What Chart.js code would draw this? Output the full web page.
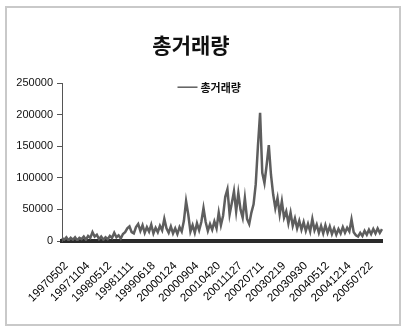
<!DOCTYPE html>
<html>
<head>
<meta charset="utf-8">
<script src="https://cdn.jsdelivr.net/npm/chart.js@4.4.0/dist/chart.umd.min.js"></script>
<style>
  html, body { margin: 0; padding: 0; background: #fff; }
  #wrap { position: relative; width: 405px; height: 327px; }
  #frame { position: absolute; left: 5px; top: 6px; width: 392px; height: 316px; border: 2px solid #c9c9c9; }
  canvas { position: absolute; left: 0; top: 0; }
</style>
</head>
<body>
<div id="wrap">
  <div id="frame"></div>
  <canvas id="volChart" width="405" height="327"></canvas>
</div>
<script>
// tick labels shown on the x axis (every 10th point, starting at index 2)
const tickLabels = ['19970502', '19971104', '19980512', '19981111', '19990618', '20000124',
  '20000904', '20010420', '20011127', '20020711', '20030219', '20030930', '20040512',
  '20041214', '20050722'];

// total volume (one value per ~2 px)
const volume = [
  5000, 2000, 6000, 1000, 5000, 2000, 6000, 1000, 5000, 3000,
  7000, 2000, 8000, 5000, 14000, 7000, 10000, 3000, 7000, 2000,
  6000, 3000, 8000, 5000, 13000, 6000, 9000, 4000, 11000, 14000,
  20000, 23000, 14000, 12000, 22000, 27000, 16000, 25000, 13000, 22000,
  15000, 26000, 12000, 21000, 14000, 24000, 17000, 35000, 20000, 13000,
  23000, 12000, 20000, 11000, 22000, 15000, 32000, 63000, 42000, 15000,
  25000, 13000, 28000, 17000, 30000, 52000, 30000, 16000, 27000, 18000,
  31000, 20000, 45000, 25000, 40000, 70000, 82000, 42000, 60000, 79000,
  47000, 76000, 50000, 37000, 68000, 35000, 27000, 45000, 58000, 90000,
  150000, 203000, 108000, 92000, 120000, 152000, 105000, 74000, 52000, 68000,
  42000, 63000, 37000, 47000, 28000, 45000, 24000, 36000, 20000, 32000,
  18000, 30000, 16000, 27000, 15000, 35000, 17000, 26000, 13000, 24000,
  12000, 25000, 13000, 23000, 11000, 20000, 10000, 19000, 12000, 22000,
  13000, 21000, 15000, 34000, 14000, 9000, 7000, 13000, 8000, 16000,
  10000, 18000, 11000, 19000, 12000, 20000, 13000, 19000
];

const yTicks = [0, 50000, 100000, 150000, 200000, 250000];

const categories = volume.map((v, i) => ((i - 2) % 10 === 0 && tickLabels[(i - 2) / 10]) || '');

// legend drawn inside the plot area, centred near the top (Excel style)
const innerLegend = {
  id: 'innerLegend',
  afterDraw(chart) {
    const c = chart.ctx;
    const ds = chart.data.datasets[0];
    const y = chart.chartArea.top + 4;
    const x0 = chart.width / 2 - 25;
    c.save();
    c.strokeStyle = ds.borderColor;
    c.lineWidth = 1.5;
    c.beginPath();
    c.moveTo(x0, y);
    c.lineTo(x0 + 20, y);
    c.stroke();
    c.fillStyle = '#111';
    c.font = 'bold 11px "Noto Sans CJK KR"';
    c.textBaseline = 'middle';
    c.fillText(ds.label, x0 + 23, y + 1);
    c.restore();
  }
};

const ctx = document.getElementById('volChart');
new Chart(ctx, {
  type: 'line',
  data: {
    labels: categories,
    datasets: [{
      label: '총거래량',
      data: volume,
      borderColor: '#5e5e5e',
      backgroundColor: '#5e5e5e',
      borderWidth: 2.5,
      pointRadius: 0,
      tension: 0
    }]
  },
  plugins: [innerLegend],
  options: {
    responsive: false,
    animation: false,
    layout: { padding: { left: 0, right: 23, top: 0, bottom: 0 } },
    plugins: {
      title: {
        display: true,
        text: '총거래량',
        color: '#111',
        font: { family: 'Noto Sans CJK KR', size: 21, weight: 'bold' },
        padding: { top: 32, bottom: 26 }
      },
      legend: { display: false },
      tooltip: { enabled: false }
    },
    scales: {
      x: {
        grid: { display: false },
        border: { display: true, width: 4, color: '#2a2a2a' },
        ticks: {
          autoSkip: false,
          minRotation: 45,
          maxRotation: 45,
          padding: 10,
          color: '#000',
          font: { family: 'Liberation Sans', size: 11.5 },
          callback: (v, i) => categories[i]
        },
        afterFit: s => { s.height = 86; }
      },
      y: {
        min: 0,
        max: 250000,
        afterBuildTicks: s => { s.ticks = yTicks.map(v => ({ value: v })); },
        grid: { drawOnChartArea: false, drawTicks: true, tickLength: 5, color: '#555' },
        border: { display: true, width: 1, color: '#555' },
        ticks: {
          padding: 4,
          color: '#111',
          font: { family: 'Liberation Sans', size: 11 },
          callback: v => String(v)
        },
        afterFit: s => { s.width = 62; }
      }
    }
  }
});
</script>
</body>
</html>
